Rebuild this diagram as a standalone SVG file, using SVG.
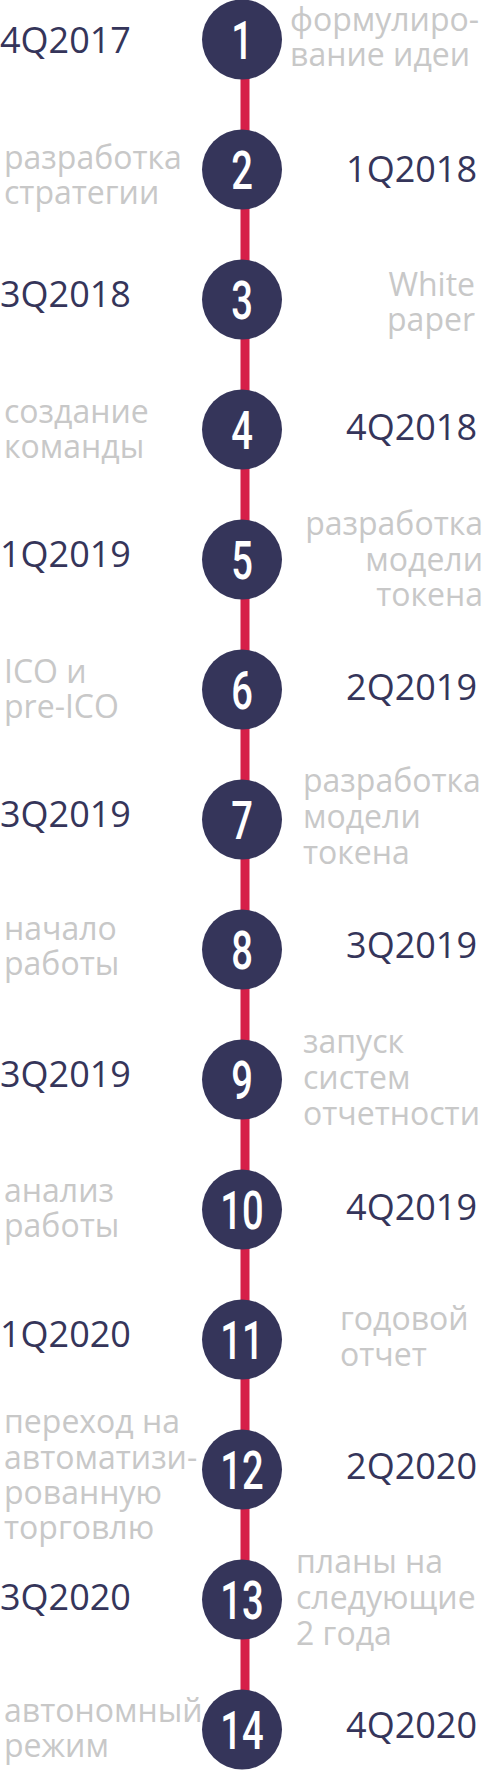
<svg xmlns="http://www.w3.org/2000/svg" width="484" height="1770" viewBox="0 0 484 1770">
<style>
.c{fill:#35355a}
.n{fill:#fff;font-family:Roboto,"DejaVu Sans",sans-serif;font-size:53px;font-weight:500;text-anchor:middle}
.d{fill:#35355a;font-family:"Open Sans","Liberation Sans",sans-serif;font-size:36px}
.g{fill:#c8c8c8;font-family:"Open Sans","Liberation Sans",sans-serif;font-size:32px}
.e{text-anchor:end}
.ln{stroke:#d61f49;stroke-width:9}
</style>
<rect width="484" height="1770" fill="#fff"/>
<g id="connectors">
<line class="ln" x1="245" y1="39.5" x2="245" y2="1729.5"/>
</g>
<g id="n1"><circle class="c" cx="242" cy="39.5" r="40"/><text class="n" transform="translate(242,58.5) scale(0.72,1)">1</text>
<text class="d" x="0" y="52.7">4Q2017</text>
<text class="g" x="290" y="31">формулиро-<tspan x="290" dy="35">вание идеи</tspan></text></g>
<g id="n2"><circle class="c" cx="242" cy="169.5" r="40"/><text class="n" transform="translate(242,188.5) scale(0.72,1)">2</text>
<text class="g" x="4" y="169">разработка<tspan x="4" dy="35">стратегии</tspan></text>
<text class="d e" x="477" y="181.7">1Q2018</text></g>
<g id="n3"><circle class="c" cx="242" cy="299.5" r="40"/><text class="n" transform="translate(242,318.5) scale(0.72,1)">3</text>
<text class="d" x="0" y="307">3Q2018</text>
<text class="g e" x="475" y="296">White<tspan x="475" dy="35">paper</tspan></text></g>
<g id="n4"><circle class="c" cx="242" cy="429.5" r="40"/><text class="n" transform="translate(242,448.5) scale(0.72,1)">4</text>
<text class="g" x="4" y="423">создание<tspan x="4" dy="35">команды</tspan></text>
<text class="d e" x="477" y="440">4Q2018</text></g>
<g id="n5"><circle class="c" cx="242" cy="559.5" r="40"/><text class="n" transform="translate(242,578.5) scale(0.72,1)">5</text>
<text class="d" x="0" y="566.7">1Q2019</text>
<text class="g e" x="483" y="535">разработка<tspan x="483" dy="35.5">модели</tspan><tspan x="483" dy="35.5">токена</tspan></text></g>
<g id="n6"><circle class="c" cx="242" cy="689.5" r="40"/><text class="n" transform="translate(242,708.5) scale(0.72,1)">6</text>
<text class="g" x="4" y="683">ICO и<tspan x="4" dy="35">pre-ICO</tspan></text>
<text class="d e" x="477" y="700">2Q2019</text></g>
<g id="n7"><circle class="c" cx="242" cy="819.5" r="40"/><text class="n" transform="translate(242,838.5) scale(0.72,1)">7</text>
<text class="d" x="0" y="827.3">3Q2019</text>
<text class="g" x="303" y="792">разработка<tspan x="303" dy="36">модели</tspan><tspan x="303" dy="36">токена</tspan></text></g>
<g id="n8"><circle class="c" cx="242" cy="949.5" r="40"/><text class="n" transform="translate(242,968.5) scale(0.72,1)">8</text>
<text class="g" x="4" y="940">начало<tspan x="4" dy="35">работы</tspan></text>
<text class="d e" x="477" y="958.3">3Q2019</text></g>
<g id="n9"><circle class="c" cx="242" cy="1079.5" r="40"/><text class="n" transform="translate(242,1098.5) scale(0.72,1)">9</text>
<text class="d" x="0" y="1086.7">3Q2019</text>
<text class="g" x="303" y="1053.3">запуск<tspan x="303" dy="36">систем</tspan><tspan x="303" dy="36">отчетности</tspan></text></g>
<g id="n10"><circle class="c" cx="242" cy="1209.5" r="40"/><text class="n" transform="translate(242,1228.5) scale(0.72,1)">10</text>
<text class="g" x="4" y="1201.7">анализ<tspan x="4" dy="35">работы</tspan></text>
<text class="d e" x="477" y="1220">4Q2019</text></g>
<g id="n11"><circle class="c" cx="242" cy="1339.5" r="40"/><text class="n" transform="translate(242,1358.5) scale(0.72,1)">11</text>
<text class="d" x="0" y="1346.7">1Q2020</text>
<text class="g" x="340" y="1330">годовой<tspan x="340" dy="36">отчет</tspan></text></g>
<g id="n12"><circle class="c" cx="242" cy="1469.5" r="40"/><text class="n" transform="translate(242,1488.5) scale(0.72,1)">12</text>
<text class="g" x="4" y="1433.3">переход на<tspan x="4" dy="35.3">автоматизи-</tspan><tspan x="4" dy="35.3">рованную</tspan><tspan x="4" dy="35.3">торговлю</tspan></text>
<text class="d e" x="477" y="1479.3">2Q2020</text></g>
<g id="n13"><circle class="c" cx="242" cy="1599.5" r="40"/><text class="n" transform="translate(242,1618.5) scale(0.72,1)">13</text>
<text class="d" x="0" y="1610">3Q2020</text>
<text class="g" x="296" y="1573.3">планы на<tspan x="296" dy="36">следующие</tspan><tspan x="296" dy="36">2 года</tspan></text></g>
<g id="n14"><circle class="c" cx="242" cy="1729.5" r="40"/><text class="n" transform="translate(242,1748.5) scale(0.72,1)">14</text>
<text class="g" x="4" y="1721.7">автономный<tspan x="4" dy="35">режим</tspan></text>
<text class="d e" x="477" y="1738.3">4Q2020</text></g>
</svg>
